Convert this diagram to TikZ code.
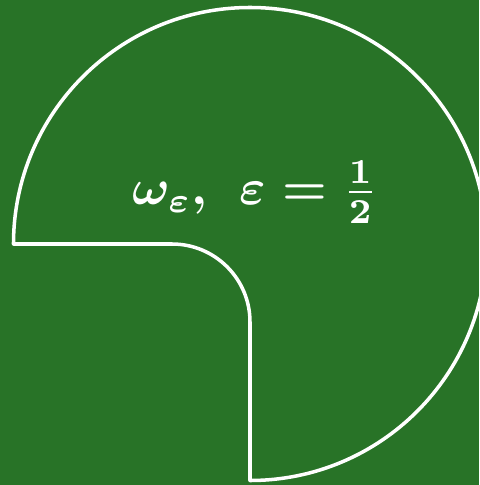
\documentclass[tikz,border=0pt]{standalone}
\usepackage{amsmath,amssymb}
\usetikzlibrary{positioning,calc}
\definecolor{BoardGreen}{RGB}{40,115,39}
\newcommand{\domtext}{$\omega_{\varepsilon},\mskip7mu \varepsilon = \tfrac{1}{2}$}
\tikzset{
	rimline/.style={draw=white,line width=2pt,line join=round},
	domlabel/.style={text=white,font=\boldmath,inner sep=0pt,
		scale=2.85,transform shape},
}
\begin{document}
\begin{tikzpicture}
	\fill[BoardGreen] (-5,-4.82) rectangle (4.58,4.88);
	\useasboundingbox (-5,-4.82) rectangle (4.58,4.88);
	\coordinate (w) at (-4.73,0);
	\coordinate (k) at (0,-1.56);
	\coordinate (h) at (-1.56,0);
	\draw[rimline] (w) arc[start angle=180,end angle=-90,radius=4.73]
		-- (k) arc[start angle=0,end angle=90,radius=1.56] -- (h) -- cycle;
	\node[domlabel] (lbl) at (0.1,1.04) {\domtext};
\end{tikzpicture}
\end{document}
